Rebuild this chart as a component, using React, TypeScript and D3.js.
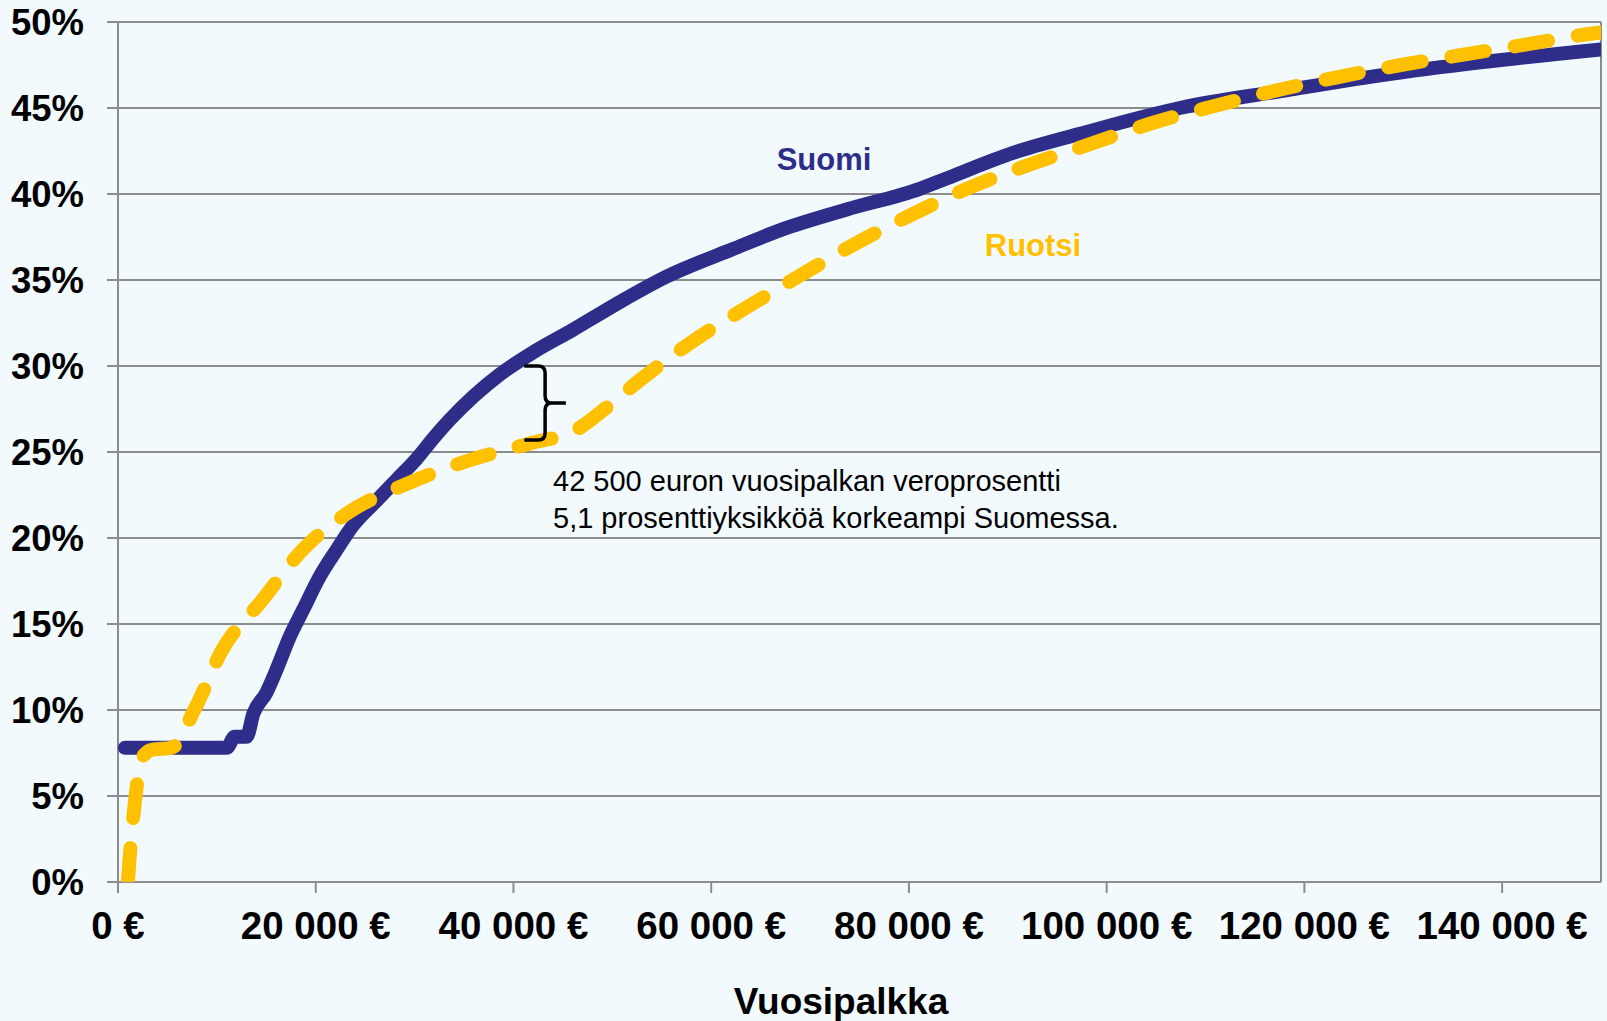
import * as d3 from 'd3'

// annual salary (€) vs. average tax rate (%)
const suomi: [number, number][] = [
  [700, 7.8], [11000, 7.8], [11800, 8.45], [13000, 8.45], [13700, 9.8], [15000, 11.0],
  [16000, 12.3], [17400, 14.3], [18700, 15.8], [20400, 17.75], [22100, 19.3], [23800, 20.75],
  [26200, 22.2], [28200, 23.4], [30200, 24.6], [31900, 25.8], [33600, 26.9], [38600, 29.5],
  [42000, 30.8], [46000, 32.1], [50400, 33.6], [55500, 35.2], [62200, 36.8], [67000, 37.9],
  [73700, 39.1], [81100, 40.3], [83800, 40.9], [90600, 42.4], [97300, 43.5], [107400, 45.0],
  [117800, 46.0], [127700, 46.9], [137800, 47.65], [150000, 48.4],
]

const ruotsi: [number, number][] = [
  [1000, 0], [1150, 1.2], [1700, 4.6], [2400, 7.2], [3500, 7.7], [5400, 7.8], [7800, 10.1],
  [10550, 13.5], [14530, 16.35], [18580, 19.26], [23640, 21.6], [29430, 23.2], [35430, 24.5],
  [41670, 25.5], [46400, 26.3], [49000, 27.4], [52730, 29.15], [58030, 31.4], [63420, 33.35],
  [68810, 35.2], [74550, 37.1], [80280, 38.8], [86250, 40.4], [92180, 41.7], [98320, 42.9],
  [104460, 44.1], [110790, 45.1], [117030, 46.0], [123430, 46.8], [129750, 47.5], [136080, 48.1],
  [142490, 48.7], [148720, 49.3], [150000, 49.4],
]

const xTicks = [0, 20000, 40000, 60000, 80000, 100000, 120000, 140000]
const yTicks = [0, 5, 10, 15, 20, 25, 30, 35, 40, 45, 50]

// brace marking the gap at 42 500 €
const braceSalary = [41100, 43200, 45300] // left end, spine, tip
const braceRates = [30, 25.7]
const noteLines = [
  '42 500 euron vuosipalkan veroprosentti',
  '5,1 prosenttiyksikköä korkeampi Suomessa.',
]

const W = 1607
const H = 1021
const margin = { top: 22, right: 6, bottom: 139, left: 118 }

const NAVY = '#2E2D8A'
const GOLD = '#FFC000'
const GRID = '#8C8C8C'
const FONT = '"Liberation Sans", Arial, sans-serif'

const fmtEuro = (v: number) => {
  const s = d3.format(',')(v).replace(/,/g, ' ')
  return `${s} €`
}

export default function App() {
  const x = d3.scaleLinear().domain([0, 150000]).range([margin.left, W - margin.right])
  const y = d3.scaleLinear().domain([0, 50]).range([H - margin.bottom, margin.top])

  const line = d3.line<[number, number]>()
    .x(d => x(d[0]))
    .y(d => y(d[1]))
    .curve(d3.curveMonotoneX)

  const [x0, x1] = x.range()
  const [yb, yt] = y.range()

  // brace geometry
  const bl = x(braceSalary[0])
  const bs = x(braceSalary[1])
  const bt = x(braceSalary[2])
  const byTop = y(braceRates[0])
  const byBot = y(braceRates[1])
  const bmid = (byTop + byBot) / 2
  const r = 7
  const brace = [
    `M${bl},${byTop}`,
    `L${bs - r},${byTop}`,
    `Q${bs},${byTop} ${bs},${byTop + r}`,
    `L${bs},${bmid - r}`,
    `Q${bs},${bmid} ${bs + r},${bmid}`,
    `L${bt},${bmid}`,
    `M${bs + r},${bmid}`,
    `Q${bs},${bmid} ${bs},${bmid + r}`,
    `L${bs},${byBot - r}`,
    `Q${bs},${byBot} ${bs - r},${byBot}`,
    `L${bl},${byBot}`,
  ].join(' ')

  return (
    <svg
      width={W}
      height={H}
      style={{ position: 'absolute', left: 0, top: 0, display: 'block' }}
      fontFamily={FONT}
    >
      <rect x={0} y={0} width={W} height={H} fill="#F3FAFE" />
      <defs>
        <clipPath id="plot">
          <rect x={x0} y={yt} width={x1 - x0} height={yb - yt} />
        </clipPath>
      </defs>

      {/* horizontal grid + y ticks */}
      {yTicks.map(t => (
        <g key={t}>
          <line x1={x0 - 11} x2={x1} y1={y(t)} y2={y(t)} stroke={GRID} strokeWidth={2} />
          <text
            x={84}
            y={y(t)}
            dy="0.35em"
            textAnchor="end"
            fontSize={36.5}
            fontWeight="bold"
            fill="#000"
          >
            {`${t}%`}
          </text>
        </g>
      ))}

      {/* frame */}
      <line x1={x0} x2={x0} y1={yt} y2={yb + 11} stroke={GRID} strokeWidth={2} />
      <line x1={x1} x2={x1} y1={yt} y2={yb} stroke={GRID} strokeWidth={2} />

      {/* x ticks */}
      {xTicks.map(t => (
        <g key={t}>
          <line x1={x(t)} x2={x(t)} y1={yb} y2={yb + 11} stroke={GRID} strokeWidth={2} />
          <text
            x={x(t)}
            y={939}
            textAnchor="middle"
            fontSize={38.5}
            fontWeight="bold"
            fill="#000"
          >
            {fmtEuro(t)}
          </text>
        </g>
      ))}

      <text x={841} y={1014} textAnchor="middle" fontSize={37} fontWeight="bold" fill="#000">
        Vuosipalkka
      </text>

      <g clipPath="url(#plot)">
        <path
          d={line(suomi) ?? ''}
          fill="none"
          stroke={NAVY}
          strokeWidth={14}
          strokeLinecap="round"
          strokeLinejoin="round"
        />
        <path
          d={line(ruotsi) ?? ''}
          fill="none"
          stroke={GOLD}
          strokeWidth={14}
          strokeLinecap="round"
          strokeLinejoin="round"
          strokeDasharray="34 30"
        />
      </g>

      <path d={brace} fill="none" stroke="#000" strokeWidth={3.5} />

      <text x={824} y={170} textAnchor="middle" fontSize={31} fontWeight="bold" fill={NAVY}>
        Suomi
      </text>
      <text x={1033} y={256} textAnchor="middle" fontSize={31} fontWeight="bold" fill={GOLD}>
        Ruotsi
      </text>

      <text x={553} y={491} fontSize={29} fill="#000">
        {noteLines.map((l, i) => (
          <tspan key={i} x={553} dy={i === 0 ? 0 : 37}>
            {l}
          </tspan>
        ))}
      </text>
    </svg>
  )
}
